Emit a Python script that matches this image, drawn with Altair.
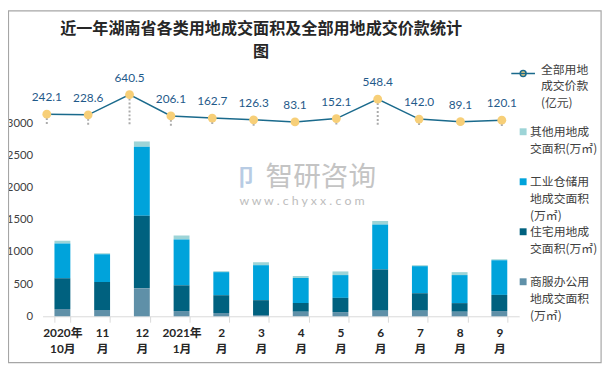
import altair as alt
import pandas as pd

categories = ["2020年|10月", "11|月", "12|月", "2021年|1月", "2|月", "3|月",
              "4|月", "5|月", "6|月", "7|月", "8|月", "9|月"]
commercial = [112, 97, 436, 82, 51, 20, 71, 66, 87, 87, 71, 82]
residential = [478, 436, 1129, 400, 277, 231, 134, 221, 642, 272, 134, 251]
industrial = [543, 431, 1073, 713, 359, 544, 389, 354, 698, 421, 436, 539]
other = [42, 15, 82, 62, 15, 46, 31, 57, 56, 15, 46, 15]
price = [242.1, 228.6, 640.5, 206.1, 162.7, 126.3, 83.1, 152.1, 548.4, 142.0, 89.1, 120.1]

series_names = ["其他用地成|交面积(万㎡)", "工业仓储用|地成交面积|(万㎡)",
                "住宅用地成|交面积(万㎡)", "商服办公用|地成交面积|(万㎡)"]
series_colors = ["#9DD4D7", "#00A3DB", "#00617F", "#5F90A8"]
line_name = "全部用地|成交价款|(亿元)"
y_ticks = [0, 500, 1000, 1500, 2000, 2500, 3000]

series_values = [other, industrial, residential, commercial]
stack_rank = [3, 2, 1, 0]

rows = []
for name, vals, rank in zip(series_names, series_values, stack_rank):
    for c, v in zip(categories, vals):
        rows.append({"cat": c, "series": name, "value": v, "ord": rank})
bar_df = pd.DataFrame(rows)
legend_df = pd.DataFrame({"series": series_names})

line_df = pd.DataFrame({"idx": list(range(len(categories))), "price": price,
                        "s": [line_name] * len(categories)})

FONT_NUM = "Lato, Noto Sans CJK SC"
FONT_CJK = "Noto Sans CJK SC"

fill_scale = alt.Scale(domain=series_names, range=series_colors)

bars = alt.Chart(bar_df).mark_bar().encode(
    x=alt.X("cat:N", sort=categories,
            scale=alt.Scale(paddingInner=0.6, paddingOuter=0.3),
            axis=alt.Axis(title=None,
                          labelExpr="isValid(datum.value) ? split(datum.value, '|') : ''",
                          labelAngle=0,
                          tickBand="extent", tickSize=6, tickColor="#D9D9D9",
                          domainColor="#D9D9D9", labelPadding=5, labelLineHeight=17,
                          labelFont=FONT_NUM, labelFontSize=12, labelFontWeight="bold",
                          labelColor="#262626", labelBaseline="top")),
    y=alt.Y("value:Q", stack="zero",
            scale=alt.Scale(domain=[0, 3500], nice=False),
            axis=alt.Axis(values=y_ticks, format="d", title=None, grid=False, domain=False,
                          ticks=False, labelPadding=10, labelFont=FONT_NUM,
                          labelFontSize=11.5, labelColor="#404040")),
    fill=alt.Fill("series:N", scale=fill_scale, legend=None),
    order=alt.Order("ord:Q", sort="ascending"),
)

# legend for the bar series, laid out through a point scale
leg_y = alt.Y("series:N",
              scale=alt.Scale(type="point", domain=series_names, range=[41, 193], padding=0),
              axis=None)
leg_sq = alt.Chart(legend_df).mark_square(size=49, opacity=1).encode(
    x=alt.value(487), y=leg_y, fill=alt.Fill("series:N", scale=fill_scale, legend=None))
leg_tx = alt.Chart(legend_df).mark_text(align="left", baseline="alphabetic", dy=4.5,
                                        lineBreak="|", lineHeight=17, font=FONT_CJK,
                                        fontSize=12, color="#404040").encode(
    x=alt.value(494), y=leg_y, text="series:N")

xq = alt.X("idx:Q", scale=alt.Scale(domain=[-0.103, 11.42], nice=False, zero=False), axis=None)
yq = alt.Y("price:Q", scale=alt.Scale(domain=[-3886, 709], nice=False, zero=False), axis=None)
base = alt.Chart(line_df).encode(x=xq, y=yq)

drops = base.mark_rule(color="#ABABAB", strokeDash=[2, 2], strokeWidth=2).encode(y2=alt.datum(0))
line = base.mark_line(strokeWidth=1.5).encode(
    stroke=alt.Stroke("s:N", scale=alt.Scale(domain=[line_name], range=["#1A6A8C"]),
                      legend=alt.Legend(title=None, orient="none", legendX=474, legendY=-31,
                                        labelExpr="split(datum.label, '|')",
                                        symbolType="M-1,0H1M-0.25,0a0.25,0.25 0 1,0 0.5,0a0.25,0.25 0 1,0 -0.5,0",
                                        symbolSize=576, symbolStrokeWidth=1.5,
                                        symbolFillColor="#F7CF78",
                                        labelBaseline="alphabetic", labelFont=FONT_CJK,
                                        labelFontSize=12, labelColor="#404040", labelOffset=5,
                                        labelLimit=200)))
pts = base.mark_circle(size=80, color="#F7CF78", opacity=1)
labels = base.mark_text(dy=-17, fontSize=12, color="#1F5A8A", font=FONT_NUM).encode(
    text=alt.Text("price:Q", format=".1f"))

deco = pd.DataFrame({"k": [0]})
border = alt.Chart(deco).mark_rect(fillOpacity=0, stroke="#A6A6A6", strokeWidth=1.2).encode(
    x=alt.value(-34.5), x2=alt.value(566), y=alt.value(-81.5), y2=alt.value(275))
wm1 = alt.Chart(deco).mark_text(text="智研咨询", font=FONT_CJK, fontSize=28, color="#C4C4C4").encode(
    x=alt.value(282), y=alt.value(88))
wm2 = alt.Chart(deco).mark_text(text="w w w . c h y x x . c o m", font=FONT_NUM, fontSize=12.5,
                                color="#BDBDBD").encode(x=alt.value(263), y=alt.value(111))
wm3 = alt.Chart(deco).mark_text(text="卩", font=FONT_CJK, fontSize=22, color="#B8CCE4",
                                fontWeight="bold").encode(x=alt.value(206), y=alt.value(88))

chart = alt.layer(border, wm1, wm2, wm3, bars, drops, line, pts, labels, leg_sq, leg_tx).resolve_scale(
    x="independent", y="independent"
).properties(
    width=483, height=228,
    padding={"left": 35, "top": 82, "right": 90, "bottom": 52},
    autosize=alt.AutoSizeParams(type="none"),
    title=alt.TitleParams(text=["近一年湖南省各类用地成交面积及全部用地成交价款统计", "图"],
                          font=FONT_CJK, fontSize=16.3, fontWeight="bold", color="#262626",
                          anchor="middle", frame="group", dx=-20, offset=-51, lineHeight=24),
).configure(
    style={"guide-label": {"lineHeight": 17}}
).configure_view(stroke=None)

chart.save("out.html", embed_options={"renderer": "svg", "actions": False})
